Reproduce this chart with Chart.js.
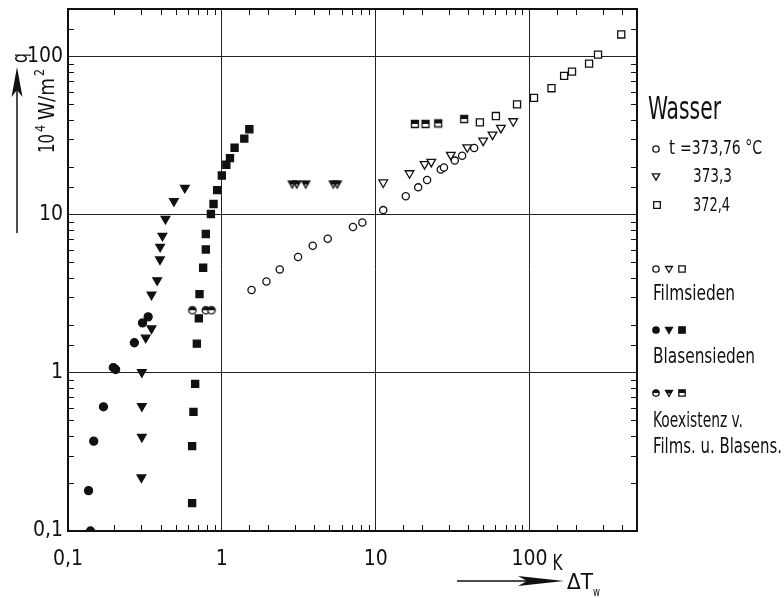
<!DOCTYPE html>
<html><head><meta charset="utf-8">
<style>html,body{margin:0;padding:0;background:#fff;}</style>
<script src="https://cdn.jsdelivr.net/npm/chart.js@4.4.0/dist/chart.umd.min.js"></script>
</head><body>
<canvas id="c" width="784" height="598" style="width:784px;height:598px;display:block"></canvas>
<script>
// ---------- data (ΔT_w in K, q in 10^4 W/m^2) ----------
// Blasensieden (filled symbols)
const nucCircX = [0.14, 0.136, 0.147, 0.17, 0.197, 0.204, 0.27, 0.305, 0.332];
const nucCircY = [0.10, 0.18, 0.37, 0.61, 1.08, 1.05, 1.55, 2.07, 2.26];
const nucTriX = [0.30, 0.302, 0.302, 0.302, 0.32, 0.349, 0.349, 0.38, 0.396, 0.397, 0.411, 0.43, 0.488, 0.575];
const nucTriY = [0.218, 0.394, 0.615, 1.01, 1.67, 1.91, 3.12, 3.85, 5.21, 6.27, 7.36, 9.4, 12.2, 14.8];
const nucSqX = [0.641, 0.641, 0.654, 0.671, 0.688, 0.709, 0.716, 0.756, 0.787, 0.787, 0.849, 0.883, 0.932, 1.0, 1.07, 1.13, 1.21, 1.40, 1.51];
const nucSqY = [0.15, 0.344, 0.567, 0.852, 1.53, 2.21, 3.15, 4.62, 6.03, 7.55, 10.1, 11.7, 14.3, 17.7, 20.7, 22.8, 26.5, 30.3, 34.7];
// Filmsieden (open symbols)
const filmCircX = [1.56, 1.95, 2.38, 3.13, 3.9, 4.88, 7.12, 8.19, 11.2, 15.7, 18.9, 21.6, 26.5, 27.8, 32.7, 36.5, 43.7];
const filmCircY = [3.34, 3.78, 4.51, 5.4, 6.36, 7.05, 8.36, 8.94, 10.7, 13.1, 14.9, 16.6, 19.3, 19.9, 22.0, 23.6, 26.4];
const filmTriX = [11.2, 16.6, 20.8, 23.0, 30.8, 39.4, 50.0, 57.5, 65.2, 78.4];
const filmTriY = [16.0, 18.3, 20.9, 21.6, 23.9, 26.7, 29.4, 32.1, 35.4, 39.0];
const filmSqX = [47.6, 60.5, 83.0, 107, 139, 168, 189, 244, 279, 395];
const filmSqY = [38.4, 42.1, 49.9, 54.8, 63.1, 75.5, 80.4, 90.3, 103, 138];
// Koexistenz (half-filled symbols)
const coCircX = [0.644, 0.787, 0.856];
const coCircY = [2.49, 2.49, 2.49];
const coTriX = [2.87, 3.07, 3.51, 5.31, 5.63];
const coTriY = [15.8, 15.8, 15.8, 15.8, 15.8];
const coSqX = [18.0, 21.1, 25.5, 37.6];
const coSqY = [37.5, 37.5, 37.8, 40.3];
// axes
const xMin = 0.1, xMax = 500, yMin = 0.1, yMax = 200;
const xTickValues = [0.1, 1, 10, 100];
const xTickLabels = ['0,1', '1', '10', '100'];
const yTickValues = [0.1, 1, 10, 100];
const yTickLabels = ['0,1', '1', '10', '100'];

// ---------- styling ----------
const INK = '#111';
const FONT = "'Liberation Sans Narrow','DejaVu Sans Condensed','Liberation Sans',sans-serif";
const pts = (xs, ys) => xs.map((x, i) => ({x: x, y: ys[i]}));
const isDecade = v => v > 0 && Math.abs(Math.log10(v) - Math.round(Math.log10(v))) < 1e-6;
const findLabel = (v, vals, labs) => { for (let i = 0; i < vals.length; i++) if (Math.abs(v / vals[i] - 1) < 1e-6) return labs[i]; return ''; };

function shapePath(g, shape, cx, cy, s) {
  g.beginPath();
  if (shape === 'circle') g.arc(cx, cy, s, 0, Math.PI * 2);
  else if (shape === 'tri') { g.moveTo(cx - s * 0.87, cy - s * 0.5); g.lineTo(cx + s * 0.87, cy - s * 0.5); g.lineTo(cx, cy + s); g.closePath(); }
  else { g.rect(cx - s, cy - s, 2 * s, 2 * s); }
}
function drawSymbol(g, shape, mode, cx, cy, s) {
  g.save();
  g.strokeStyle = INK; g.fillStyle = INK; g.lineWidth = 1.3;
  if (mode === 'open') { shapePath(g, shape, cx, cy, s); g.fillStyle = '#fff'; g.fill(); g.stroke(); }
  else if (mode === 'filled') { shapePath(g, shape, cx, cy, s); g.fill(); g.stroke(); }
  else {
    shapePath(g, shape, cx, cy, s); g.fillStyle = '#fff'; g.fill();
    g.save(); g.beginPath(); g.rect(cx - 20, cy - 20, 40, 20 + (shape === 'tri' ? s * 0.25 : 0)); g.clip();
    shapePath(g, shape, cx, cy, s); g.fillStyle = INK; g.fill(); g.restore();
    shapePath(g, shape, cx, cy, s); g.stroke();
  }
  g.restore();
}
function markerCanvas(shape, mode, s) {
  const c = document.createElement('canvas');
  c.width = 14; c.height = 14;
  drawSymbol(c.getContext('2d'), shape, mode, 7, 7, s);
  return c;
}

function ds(label, xs, ys, style, mode, r, rot) {
  return {
    label: label, data: pts(xs, ys), pointStyle: style, pointRadius: r, pointHoverRadius: r,
    pointRotation: rot || 0, borderColor: INK, borderWidth: 1.3,
    backgroundColor: mode === 'filled' ? INK : '#fff', showLine: false
  };
}

const datasets = [
  ds('Blasensieden 373,76', nucCircX, nucCircY, 'circle', 'filled', 4),
  ds('Blasensieden 373,3', nucTriX, nucTriY, 'triangle', 'filled', 5, 180),
  ds('Blasensieden 372,4', nucSqX, nucSqY, 'rect', 'filled', 5),
  ds('Filmsieden 373,76', filmCircX, filmCircY, 'circle', 'open', 3.6),
  ds('Filmsieden 373,3', filmTriX, filmTriY, 'triangle', 'open', 5, 180),
  ds('Filmsieden 372,4', filmSqX, filmSqY, 'rect', 'open', 5),
  ds('Koexistenz 373,76', coCircX, coCircY, markerCanvas('circle', 'half', 3.7), 'half', 4),
  ds('Koexistenz 373,3', coTriX, coTriY, markerCanvas('tri', 'half', 4.6), 'half', 4),
  ds('Koexistenz 372,4', coSqX, coSqY, markerCanvas('rect', 'half', 3.5), 'half', 4)
];

function fitText(g, str, x, base, size, width) {
  g.save();
  g.font = size + 'px ' + FONT;
  g.textBaseline = 'alphabetic'; g.textAlign = 'left'; g.fillStyle = INK;
  const w = g.measureText(str).width;
  const k = width ? width / w : 1;
  g.translate(x, base); g.scale(k, 1);
  g.fillText(str, 0, 0);
  g.restore();
}

const decor = {
  id: 'decor',
  afterDraw(chart) {
    const g = chart.ctx, a = chart.chartArea, xs = chart.scales.x, ys = chart.scales.y;
    g.save();
    g.strokeStyle = INK; g.lineWidth = 1;
    // minor ticks, inward on all four sides
    const L = 6;
    xs.ticks.forEach(t => {
      if (isDecade(t.value)) return;
      const p = Math.round(xs.getPixelForValue(t.value)) + 0.5;
      g.beginPath(); g.moveTo(p, a.bottom); g.lineTo(p, a.bottom - L); g.moveTo(p, a.top); g.lineTo(p, a.top + L); g.stroke();
    });
    ys.ticks.forEach(t => {
      if (isDecade(t.value)) return;
      const p = Math.round(ys.getPixelForValue(t.value)) + 0.5;
      g.beginPath(); g.moveTo(a.left, p); g.lineTo(a.left + L, p); g.moveTo(a.right, p); g.lineTo(a.right - L, p); g.stroke();
    });
    // frame
    g.lineWidth = 2;
    g.strokeRect(a.left, a.top, a.right - a.left, a.bottom - a.top);
    // unit K after 100
    const k100 = xs.getPixelForValue(100);
    fitText(g, 'K', k100 + 23, 570, 21, 10);
    // x axis arrow + ΔT_w
    g.lineWidth = 1.5;
    g.beginPath(); g.moveTo(457, 581); g.lineTo(530, 581); g.stroke();
    g.fillStyle = INK;
    g.beginPath(); g.moveTo(564, 581); g.lineTo(518, 576); g.lineTo(527, 581); g.lineTo(518, 586); g.closePath(); g.fill();
    fitText(g, 'ΔT', 567, 589, 21, 26);
    fitText(g, 'w', 593, 596, 13, 7);
    // y axis arrow + q
    g.beginPath(); g.moveTo(17, 90); g.lineTo(17, 233); g.stroke();
    g.beginPath(); g.moveTo(17, 67); g.lineTo(11.5, 97); g.lineTo(17, 90); g.lineTo(22.5, 97); g.closePath(); g.fill();
    g.save(); g.translate(27, 63); g.rotate(-Math.PI / 2);
    fitText(g, 'q', 0, 0, 21, 10); g.restore();
    // unit 10^4 W/m^2 rotated
    g.save(); g.translate(54, 153); g.rotate(-Math.PI / 2);
    fitText(g, '10', 0, 0, 22, 19);
    fitText(g, '4', 21, -9, 14, 7);
    fitText(g, 'W/m', 33, 0, 22, 42);
    fitText(g, '2', 77, -10, 14, 7);
    g.restore();
    // legend block
    fitText(g, 'Wasser', 648, 119, 32, 73);
    drawSymbol(g, 'circle', 'open', 656, 149, 3.2);
    fitText(g, 't', 669, 154, 20, 6);
    fitText(g, '=373,76 °C', 680, 154, 20, 82);
    drawSymbol(g, 'tri', 'open', 656, 176, 4.2);
    fitText(g, '373,3', 693, 182, 20, 39);
    drawSymbol(g, 'rect', 'open', 657, 205, 3.3);
    fitText(g, '372,4', 693, 211, 20, 37);
    const rows = [[269, 'open'], [330, 'filled'], [393, 'half']];
    rows.forEach(r => {
      drawSymbol(g, 'circle', r[1], 656, r[0], 3.2);
      drawSymbol(g, 'tri', r[1], 669, r[0] - 0.5, 4.0);
      drawSymbol(g, 'rect', r[1], 682, r[0], 3.2);
    });
    fitText(g, 'Filmsieden', 653, 300, 21, 82);
    fitText(g, 'Blasensieden', 653, 363, 21, 102);
    fitText(g, 'Koexistenz v.', 653, 427, 21, 90);
    fitText(g, 'Films. u. Blasens.', 653, 453, 21, 129);
    g.restore();
  }
};

new Chart(document.getElementById('c'), {
  type: 'scatter',
  data: {datasets: datasets},
  options: {
    responsive: false, animation: false, devicePixelRatio: 1,
    layout: {padding: {left: 0, top: 9, right: 147, bottom: 0}},
    plugins: {legend: {display: false}, tooltip: {enabled: false}},
    scales: {
      x: {
        type: 'logarithmic', min: xMin, max: xMax,
        afterFit: s => { s.height = 67; s.paddingLeft = 0; s.paddingRight = 0; },
        border: {color: INK, width: 2},
        grid: {drawTicks: false, lineWidth: 1, color: c => (c.tick && isDecade(c.tick.value)) ? '#222' : 'rgba(0,0,0,0)'},
        ticks: {autoSkip: false, maxRotation: 0, minRotation: 0, padding: 16, color: INK,
          font: {family: FONT, size: 21},
          callback: v => findLabel(v, xTickValues, xTickLabels)}
      },
      y: {
        type: 'logarithmic', min: yMin, max: yMax,
        afterFit: s => { s.width = 68; s.paddingTop = 0; s.paddingBottom = 0; },
        border: {color: INK, width: 2},
        grid: {drawTicks: false, lineWidth: 1, color: c => (c.tick && isDecade(c.tick.value)) ? '#222' : 'rgba(0,0,0,0)'},
        ticks: {autoSkip: false, padding: 5, color: INK,
          font: {family: FONT, size: 21},
          callback: v => findLabel(v, yTickValues, yTickLabels)}
      }
    }
  },
  plugins: [decor]
});
</script>
</body></html>
